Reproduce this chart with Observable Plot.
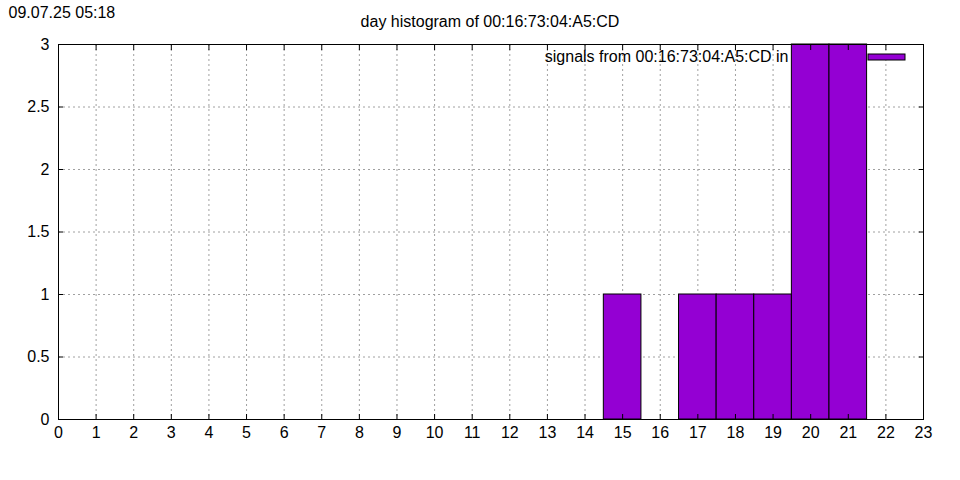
<!DOCTYPE html>
<html><head><meta charset="utf-8">
<script src="https://cdn.jsdelivr.net/npm/d3@7"></script>
<script src="https://cdn.jsdelivr.net/npm/@observablehq/plot@0.6"></script>
<style>
html,body{margin:0;padding:0;background:#fff;}
#c{position:relative;width:960px;height:480px;font-family:"Liberation Sans",Arial,sans-serif;}
svg{font-family:"Liberation Sans",Arial,sans-serif;}
</style></head>
<body><div id="c"></div>
<script>
const hours = [15, 17, 18, 19, 20, 21];
const counts = [1, 1, 1, 1, 3, 3];
const xTicks = d3.range(0, 24);
const yTicks = [0, 0.5, 1, 1.5, 2, 2.5, 3];
const timestamp = "09.07.25 05:18";
const title = "day histogram of 00:16:73:04:A5:CD";
const legendLabel = "signals from 00:16:73:04:A5:CD in";
const barColor = "#9400d3";

const data = hours.map((h, i) => ({hour: h, count: counts[i]}));

const plot = Plot.plot({
  width: 960, height: 480,
  marginLeft: 58, marginRight: 37, marginTop: 44, marginBottom: 61,
  style: {fontSize: "16px", fontFamily: "Liberation Sans, Arial, sans-serif", color: "black", background: "white"},
  x: {domain: [0, 23], ticks: xTicks},
  y: {domain: [0, 3], ticks: yTicks},
  marks: [
    Plot.gridX(xTicks.slice(1, -1), {stroke: "#a0a0a0", strokeOpacity: 1, strokeDasharray: "2,3"}),
    Plot.gridY(yTicks.slice(1, -1), {stroke: "#a0a0a0", strokeOpacity: 1, strokeDasharray: "2,3"}),
    Plot.rect(data, {x1: d => d.hour - 0.5, x2: d => d.hour + 0.5, y1: 0, y2: "count", fill: barColor, stroke: "black", strokeWidth: 1}),
    Plot.axisX(xTicks, {anchor: "bottom", tickSize: 0, tickPadding: 7, label: null, fontSize: 16}),
    Plot.axisY(yTicks, {anchor: "left", tickSize: 0, tickPadding: 9, label: null, fontSize: 16, tickFormat: d => String(d)}),
    Plot.axisX(xTicks, {anchor: "bottom", tickSize: -5, text: null, label: null}),
    Plot.axisX(xTicks, {anchor: "top", tickSize: -5, text: null, label: null}),
    Plot.axisY(yTicks, {anchor: "left", tickSize: -5, text: null, label: null}),
    Plot.axisY(yTicks, {anchor: "right", tickSize: -5, text: null, label: null}),
    Plot.frame({stroke: "black", strokeWidth: 1}),
    Plot.text([legendLabel], {frameAnchor: "top-right", dx: -135, dy: 6, textAnchor: "end", fontSize: 16, fill: "black"}),
    Plot.text([title], {frameAnchor: "top", dx: -1, dy: -29, fontSize: 16, fill: "black"}),
    Plot.text([timestamp], {frameAnchor: "top-left", dx: -50, dy: -38, textAnchor: "start", fontSize: 16, fill: "black"})
  ]
});
const svg = d3.select(plot);
// legend key swatch
svg.append("rect").attr("x", 868).attr("y", 54).attr("width", 37).attr("height", 6)
  .attr("fill", barColor).attr("stroke", "black").attr("stroke-width", 1);
document.getElementById("c").appendChild(plot);
</script>
</body></html>
